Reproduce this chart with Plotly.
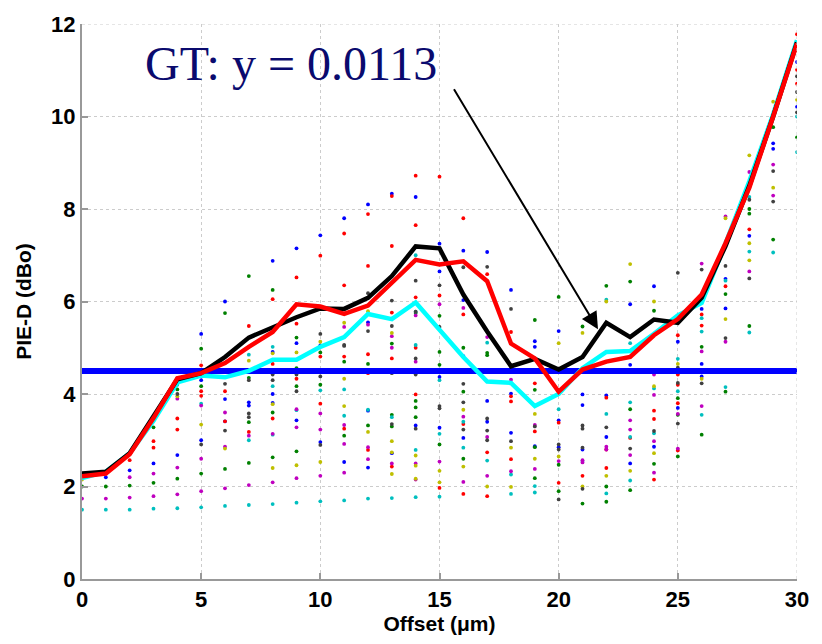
import plotly.graph_objects as go

# ---------------- data ----------------
offsets = list(range(0, 31))

black_line = [2.28, 2.32, 2.72, 3.5, 4.32, 4.45, 4.8, 5.22, 5.45, 5.66, 5.85, 5.84, 6.08, 6.55, 7.19, 7.15,
              6.15, 5.35, 4.6, 4.76, 4.53, 4.8, 5.54, 5.23, 5.61, 5.54, 6.08, 7.2, 8.5, 10.0, 11.6]
red_line = [2.22, 2.28, 2.7, 3.48, 4.34, 4.45, 4.67, 5.02, 5.34, 5.94, 5.89, 5.73, 5.91, 6.4, 6.9, 6.8,
            6.87, 6.44, 5.09, 4.77, 4.05, 4.53, 4.7, 4.8, 5.27, 5.62, 6.15, 7.26, 8.46, 10.0, 11.58]
cyan_line = [2.18, 2.32, 2.72, 3.42, 4.25, 4.4, 4.36, 4.5, 4.74, 4.74, 5.02, 5.23, 5.73, 5.62, 5.98, 5.4,
             4.8, 4.27, 4.24, 3.74, 4.0, 4.56, 4.91, 4.93, 5.3, 5.7, 5.97, 7.25, 8.6, 10.05, 11.65]
threshold = 4.5

blue_x = [1, 2, 3, 4, 5, 5, 5, 6, 6, 6, 7, 7, 8, 8, 8, 8, 9, 9, 9, 10, 10, 10, 11, 11, 12, 12, 12, 12, 13, 13,
          14, 14, 15, 15, 15, 15, 16, 16, 16, 16, 17, 17, 17, 18, 18, 18, 19, 19, 19, 20, 20, 20, 21, 21, 21,
          22, 22, 22, 23, 23, 23, 24, 24, 25, 25, 26, 26, 26, 27, 27, 28, 29, 29, 30, 30]
blue_y = [2.2, 2.35, 2.5, 2.68, 5.3, 4.3, 3.0, 6.0, 3.89, 3.41, 3.82, 3.75, 6.88, 4.91, 4.0, 3.81, 7.15, 5.1, 3.43,
          7.43, 5.05, 2.96, 7.8, 2.53, 8.1, 5.55, 3.64, 2.41, 8.33, 2.72, 8.26, 3.32, 7.25, 6.65, 4.37, 3.27,
          7.1, 6.03, 4.82, 3.05, 7.07, 3.85, 3.4, 6.25, 4.01, 3.16, 5.14, 5.02, 2.87, 5.36, 3.43, 2.85, 3.99,
          3.76, 2.8, 4.5, 3.97, 3.07, 5.94, 4.63, 2.5, 6.33, 2.86, 5.13, 3.7, 5.84, 4.65, 4.38, 6.49, 5.85,
          7.42, 9.42, 9.3, 11.18, 10.21]

green_x = [0, 1, 2, 3, 3, 4, 4, 5, 5, 5, 6, 6, 7, 7, 7, 7, 8, 8, 8, 9, 9, 9, 9, 10, 10, 11, 11, 12, 12,
           13, 13, 13, 14, 14, 14, 14, 15, 15, 15, 15, 16, 16, 16, 17, 17, 18, 19, 19, 19, 19, 20, 20, 20,
           21, 21, 22, 22, 22, 23, 23, 23, 24, 24, 25, 25, 25, 26, 26, 27, 27, 28, 28, 28, 29, 29, 30]
green_y = [2.0, 2.0, 2.02, 3.28, 2.08, 4.1, 2.17, 4.98, 4.17, 2.28, 5.75, 2.38, 6.55, 4.35, 3.39, 2.51,
           6.25, 3.6, 2.63, 5.22, 4.56, 4.17, 2.76, 4.2, 4.9, 4.7, 3.1, 4.65, 3.32, 5.09, 3.55, 3.3,
           5.75, 3.85, 3.71, 3.5, 5.69, 4.91, 4.63, 2.91, 5.0, 4.05, 2.6, 4.89, 4.84, 4.5, 5.6, 4.09,
           2.85, 2.18, 6.1, 2.47, 1.9, 5.46, 1.63, 6.34, 2.0, 1.67, 6.43, 3.67, 1.92, 5.8, 2.49, 3.91,
           3.55, 2.65, 5.02, 3.12, 6.16, 4.05, 8.0, 7.9, 5.47, 9.77, 7.34, 9.55]

red_x = [2, 3, 3, 4, 4, 5, 5, 5, 6, 6, 7, 7, 8, 8, 8, 9, 9, 9, 10, 10, 10, 11, 11, 11, 11, 12, 12, 12, 12, 12,
         13, 13, 13, 13, 13, 14, 14, 14, 14, 14, 15, 15, 15, 16, 16, 16, 16, 17, 17, 17, 18, 18, 18, 18,
         19, 19, 20, 20, 21, 22, 22, 22, 23, 24, 24, 24, 25, 25, 25, 25, 25, 26, 26, 27, 28, 30, 30, 30]
red_y = [2.57, 2.98, 2.84, 3.47, 3.23, 4.62, 4.06, 3.96, 4.06, 3.41, 5.47, 3.18, 6.05, 4.65, 3.47, 6.52, 5.52,
         4.33, 6.99, 4.81, 3.79, 7.47, 6.35, 4.81, 3.25, 7.89, 6.77, 4.86, 4.45, 2.79, 8.28, 7.2, 5.76, 4.77,
         2.43, 8.72, 7.65, 6.09, 5.0, 3.99, 8.7, 6.13, 1.97, 7.8, 5.72, 3.35, 1.84, 6.59, 2.74, 1.79, 5.34,
         3.95, 3.84, 2.59, 4.23, 3.19, 3.38, 2.08, 2.23, 3.92, 2.8, 2.4, 3.05, 3.64, 3.46, 2.15, 5.27, 4.42,
         4.2, 3.8, 2.78, 5.72, 5.48, 6.33, 7.56, 11.78, 11.01, 10.71]

cyan_x = [0, 1, 2, 3, 4, 4, 5, 5, 6, 7, 7, 7, 8, 8, 8, 8, 9, 9, 10, 10, 11, 11, 11, 12, 12, 13, 13,
          14, 14, 14, 14, 14, 15, 15, 15, 16, 16, 17, 17, 18, 18, 19, 19, 20, 21, 22, 22, 22, 23, 23, 23, 23,
          24, 24, 25, 25, 25, 26, 26, 26, 27, 27, 28, 28, 28, 29, 30, 30]
cyan_y = [1.5, 1.5, 1.5, 1.52, 4.2, 1.53, 3.79, 1.55, 1.58, 4.85, 3.0, 1.6, 5.02, 4.17, 3.12, 1.62, 3.65, 1.65,
          4.08, 1.68, 4.1, 3.53, 1.7, 3.66, 1.74, 3.5, 1.75, 7.0, 5.78, 5.06, 2.79, 1.77, 4.3, 3.14, 1.78,
          3.4, 2.84, 5.11, 2.56, 2.26, 1.84, 2.01, 1.87, 3.67, 2.55, 6.04, 3.57, 1.85, 5.1, 3.82, 3.07, 2.13,
          4.12, 3.15, 5.55, 4.76, 4.06, 5.64, 5.35, 3.55, 6.45, 4.15, 8.26, 7.08, 5.33, 7.06, 10.0, 9.23]

magenta_x = [0, 1, 2, 2, 3, 3, 4, 4, 4, 5, 5, 5, 6, 6, 6, 7, 7, 8, 8, 9, 9, 9, 10, 10, 10, 11, 11, 11, 11,
             12, 12, 12, 13, 13, 13, 14, 14, 14, 14, 15, 15, 16, 16, 16, 17, 17, 17, 18, 18, 19, 19, 20,
             21, 21, 22, 22, 23, 23, 23, 24, 24, 24, 24, 25, 25, 26, 26, 26, 27, 27, 28, 28, 29, 29, 30]
magenta_y = [1.74, 1.74, 2.2, 1.76, 2.28, 1.79, 3.9, 2.41, 1.83, 3.75, 2.6, 1.9, 3.6, 2.86, 1.96, 3.1, 2.03,
             3.14, 2.09, 3.67, 3.28, 2.18, 3.58, 3.23, 2.23, 5.45, 3.33, 2.92, 2.3, 5.5, 2.85, 2.59, 5.25,
             5.0, 2.5, 5.7, 4.7, 2.5, 2.15, 5.94, 2.54, 5.86, 3.51, 2.1, 5.23, 3.07, 2.23, 4.31, 2.33, 3.33,
             2.38, 2.55, 2.57, 2.52, 2.86, 2.8, 3.43, 3.23, 2.68, 4.42, 3.98, 2.98, 2.3, 3.57, 2.82, 6.82,
             4.92, 3.74, 7.84, 5.13, 8.8, 6.65, 8.96, 8.29, 11.5]

yellow_x = [0, 4, 5, 6, 7, 8, 8, 8, 9, 9, 10, 10, 11, 11, 11, 12, 12, 13, 13, 13, 13, 14, 14, 14, 15, 15,
            16, 16, 17, 18, 18, 19, 19, 20, 20, 21, 21, 22, 22, 23, 23, 24, 24, 24, 25, 26, 27, 27,
            28, 28, 28, 29, 29, 30]
yellow_y = [2.15, 3.95, 3.34, 2.82, 4.72, 4.88, 3.78, 2.4, 4.9, 2.46, 5.13, 2.53, 5.54, 4.33, 3.74, 5.79, 3.18,
            5.32, 2.98, 2.74, 2.27, 2.67, 2.45, 2.17, 2.34, 2.09, 3.66, 2.43, 2.0, 2.84, 1.99, 3.57, 2.6,
            5.1, 2.65, 5.32, 2.0, 6.0, 2.23, 6.81, 2.34, 6.0, 4.17, 2.72, 4.65, 4.33, 5.62, 7.8, 9.16, 7.26,
            6.89, 10.32, 8.46, 10.36]

black_x = [4, 5, 6, 6, 7, 7, 7, 8, 8, 9, 9, 10, 10, 10, 11, 11, 12, 12, 12, 13, 13, 13, 13, 14, 14, 14, 14, 14,
           15, 15, 15, 15, 16, 16, 16, 16, 17, 17, 17, 17, 18, 18, 19, 20, 20, 20, 21, 21, 21, 21, 22, 23,
           24, 25, 25, 25, 25, 26, 26, 27, 27, 28, 28, 29, 29, 30, 30, 30]
black_y = [4.0, 2.91, 4.22, 3.21, 4.3, 3.58, 3.5, 4.42, 4.3, 4.42, 4.06, 5.3, 4.38, 2.9, 5.06, 5.04, 6.18, 5.36,
           4.5, 6.02, 5.47, 4.45, 3.35, 6.45, 5.78, 4.77, 4.42, 3.25, 6.35, 5.45, 3.74, 3.69, 6.74, 4.22,
           3.82, 3.23, 6.75, 3.47, 3.21, 3.0, 5.84, 2.98, 3.3, 2.91, 2.8, 1.72, 3.32, 3.25, 2.84, 1.95, 3.28,
           2.82, 3.2, 6.62, 4.57, 4.24, 3.36, 6.69, 4.23, 6.77, 5.21, 8.2, 6.5, 8.82, 8.16, 10.87, 10.53, 10.09]

x_ticks = [0, 5, 10, 15, 20, 25, 30]
y_ticks = [0, 2, 4, 6, 8, 10, 12]
annotation_text = "GT: y = 0.0113"
x_title = "Offset (μm)"
y_title = "PIE-D (dBo)"

# ---------------- figure ----------------
fig = go.Figure()

dot_series = [
    (blue_x, blue_y, "#0000FF"),
    (green_x, green_y, "#008000"),
    (red_x, red_y, "#FF0000"),
    (cyan_x, cyan_y, "#00BFBF"),
    (magenta_x, magenta_y, "#BF00BF"),
    (yellow_x, yellow_y, "#BFBF00"),
    (black_x, black_y, "#404040"),
]
for xs, ys, col in dot_series:
    fig.add_trace(go.Scatter(x=xs, y=ys, mode="markers",
                             marker=dict(color=col, size=3.8, symbol="circle", line=dict(width=0)),
                             showlegend=False, hoverinfo="skip"))

fig.add_trace(go.Scatter(x=[offsets[0], offsets[-1]], y=[threshold, threshold], mode="lines",
                         line=dict(color="#0000FF", width=6), showlegend=False))
fig.add_trace(go.Scatter(x=offsets, y=cyan_line, mode="lines",
                         line=dict(color="#00FFFF", width=4.5), showlegend=False))
fig.add_trace(go.Scatter(x=offsets, y=black_line, mode="lines",
                         line=dict(color="#000000", width=4.5), showlegend=False))
fig.add_trace(go.Scatter(x=offsets, y=red_line, mode="lines",
                         line=dict(color="#FF0000", width=4.5), showlegend=False))

axis_common = dict(
    showline=True, linecolor="#999999", linewidth=2, mirror=False,
    ticks="inside", ticklen=6, tickwidth=2, tickcolor="#999999",
    showgrid=True, gridcolor="#CCCCCC", griddash="dot", gridwidth=1,
    zeroline=False,
    tickfont=dict(family="Liberation Sans, Arial", size=22, color="black", weight="bold"),
)

fig.update_xaxes(range=[0, 30], tickvals=x_ticks, **axis_common,
                 title=dict(text=x_title, standoff=5,
                            font=dict(family="Liberation Sans, Arial", size=21, color="black", weight="bold")))
fig.update_yaxes(range=[0, 12], tickvals=y_ticks, **axis_common,
                 title=dict(text=y_title, standoff=14,
                            font=dict(family="Liberation Sans, Arial", size=21, color="black", weight="bold")))

# dotted top/right borders (grid at range ends)
fig.add_shape(type="line", xref="x", yref="y", x0=0, x1=30, y0=12, y1=12,
              line=dict(color="#CCCCCC", width=1, dash="dot"))
fig.add_shape(type="line", xref="x", yref="y", x0=30, x1=30, y0=0, y1=12,
              line=dict(color="#CCCCCC", width=1, dash="dot"))

fig.add_annotation(x=2.55, y=11.15, xref="x", yref="y", text=annotation_text, showarrow=False,
                   xanchor="left", yanchor="middle",
                   font=dict(family="Liberation Serif, Times New Roman", size=48, color="#0A0A6E"))
fig.add_annotation(x=21.65, y=5.4, xref="x", yref="y", ax=15.57, ay=10.62, axref="x", ayref="y",
                   text="", showarrow=True, arrowhead=2, arrowsize=1.7, arrowwidth=2,
                   arrowcolor="black", standoff=0)

fig.update_layout(
    width=822, height=644,
    margin=dict(l=82, r=25, t=17, b=63),
    paper_bgcolor="white", plot_bgcolor="white",
    showlegend=False,
)

fig.write_html("out.html")
